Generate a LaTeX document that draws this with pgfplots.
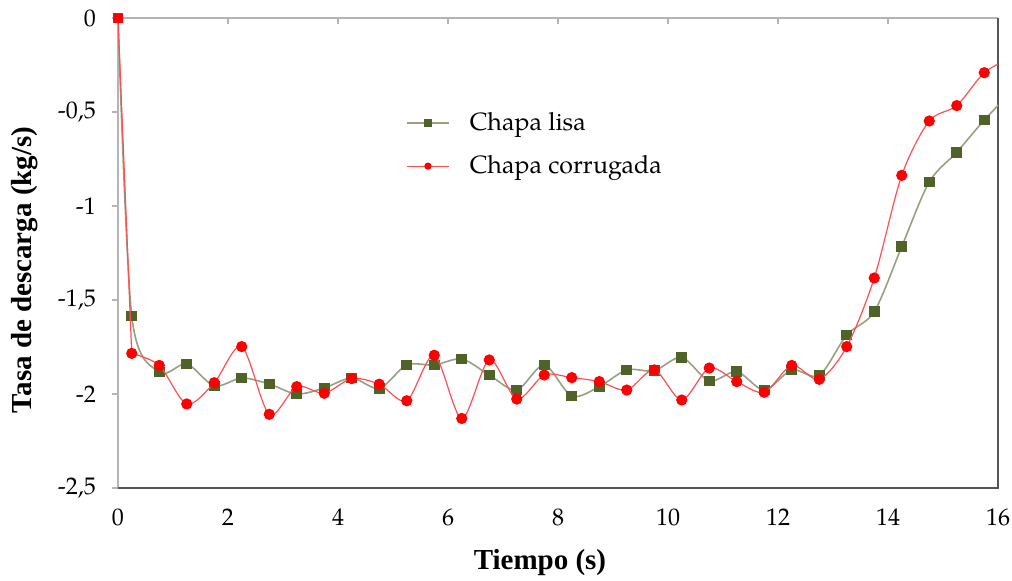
\documentclass[border=0pt]{standalone}
\usepackage{fontspec}
\setmainfont{TeX Gyre Pagella}
\newfontfamily\titlefont{Liberation Serif}
\usepackage{pgfplots}
\pgfplotsset{compat=1.18}
\usepackage{xcolor}
\definecolor{lisamark}{HTML}{4F6228}
\definecolor{lisaline}{HTML}{97A083}
\definecolor{corrmark}{HTML}{FF0000}
\definecolor{corrline}{HTML}{FF5050}
\definecolor{axlight}{HTML}{B4B4B4}
\definecolor{axdark}{HTML}{555555}

\begin{document}
\begin{tikzpicture}
\begin{axis}[
  name=ax,
  width=440pt, height=235pt, scale only axis,
  xmin=0, xmax=16, ymin=-2.5, ymax=0,
  xtick={0,2,...,16},
  ytick={-2.5,-2,-1.5,-1,-0.5,0},
  yticklabels={{-2,5},{-2},{-1,5},{-1},{-0,5},{0}},
  xtick pos=right, xticklabel pos=left,
  ytick pos=left,
  xtick align=inside, ytick align=outside,
  major tick length=3pt,
  tick style={axlight, line width=0.6pt},
  axis line style={draw=none},
  tick label style={font=\fontsize{12}{14}\selectfont, color=black},
  xticklabel style={yshift=-7pt},
  yticklabel style={xshift=-4.5pt},
  /pgf/number format/assume math mode=true,
  xlabel={\titlefont\bfseries Tiempo (s)},
  ylabel={\titlefont\bfseries Tasa de descarga (kg/s)},
  xlabel style={at={(axis description cs:0.4795,-0.1596)}, anchor=center, font=\fontsize{14.5}{16}\selectfont},
  ylabel style={at={(axis description cs:-0.1057,0.464)}, anchor=center, font=\fontsize{14.5}{16}\selectfont},
  clip mode=individual,
  legend style={draw=none, fill=none, at={(axis description cs:0.327,0.800)}, anchor=north west,
    font=\fontsize{12.5}{14.5}\selectfont, inner sep=0pt, row sep=11pt, column sep=10pt,
    nodes={inner sep=0pt}},
  legend cell align=left,
  legend image code/.code={\draw[#1, sharp plot, mark indices={2}, mark size=1.5pt]
    plot coordinates {(0pt,0pt) (10.5pt,0pt) (21pt,0pt)};},
]
\draw[axlight, line width=0.8pt] (rel axis cs:0,0) -- (rel axis cs:0,1) -- (rel axis cs:1,1);
\draw[axdark, line width=0.8pt] (rel axis cs:0,0) -- (rel axis cs:1,0) -- (rel axis cs:1,1);

\addplot[color=lisaline, line width=0.8pt, smooth, tension=0.5,
  mark=square*, mark size=2.25pt, mark indices={1,...,33},
  mark options={draw=lisamark, fill=lisamark, solid}]
coordinates {
(0,0) (0.25,-1.585) (0.75,-1.883) (1.25,-1.84) (1.75,-1.957) (2.25,-1.915)
(2.75,-1.947) (3.25,-2.0) (3.75,-1.968) (4.25,-1.915) (4.75,-1.97) (5.25,-1.846)
(5.75,-1.846) (6.25,-1.814) (6.75,-1.899) (7.25,-1.979) (7.75,-1.846) (8.25,-2.011)
(8.75,-1.961) (9.25,-1.872) (9.75,-1.876) (10.25,-1.805) (10.75,-1.931) (11.25,-1.881)
(11.75,-1.979) (12.25,-1.872) (12.75,-1.901) (13.25,-1.686) (13.75,-1.562) (14.25,-1.216)
(14.75,-0.872) (15.25,-0.714) (15.75,-0.543) (16.25,-0.39)
};
\addlegendentry{Chapa lisa}

% first drop drawn apart so the smooth curve does not overshoot after it
\addplot[color=corrline, line width=0.6pt, forget plot]
coordinates {(0,0) (0.25,-1.784)};

\addplot[color=corrline, line width=0.6pt, smooth, tension=0.5,
  mark=*, mark size=2.5pt, mark indices={1,...,32},
  mark options={draw=corrmark, fill=corrmark, solid}]
coordinates {
(0.25,-1.784) (0.75,-1.848) (1.25,-2.053) (1.75,-1.94) (2.25,-1.748)
(2.75,-2.108) (3.25,-1.961) (3.75,-1.996) (4.25,-1.918) (4.75,-1.948) (5.25,-2.036)
(5.75,-1.794) (6.25,-2.13) (6.75,-1.819) (7.25,-2.027) (7.75,-1.899) (8.25,-1.913)
(8.75,-1.934) (9.25,-1.979) (9.75,-1.872) (10.25,-2.032) (10.75,-1.862) (11.25,-1.934)
(11.75,-1.991) (12.25,-1.848) (12.75,-1.922) (13.25,-1.748) (13.75,-1.383) (14.25,-0.837)
(14.75,-0.548) (15.25,-0.466) (15.75,-0.291) (16.25,-0.21)
};
\addlegendentry{Chapa corrugada}

\addplot[only marks, mark=square*, mark size=2pt, draw=corrmark, fill=corrmark, forget plot]
coordinates {(0,0)};
\end{axis}
\pgfresetboundingbox
\path ([shift={(-59pt,-46.5pt)}]ax.south west) rectangle ([shift={(7pt,9pt)}]ax.north east);
\end{tikzpicture}
\end{document}
